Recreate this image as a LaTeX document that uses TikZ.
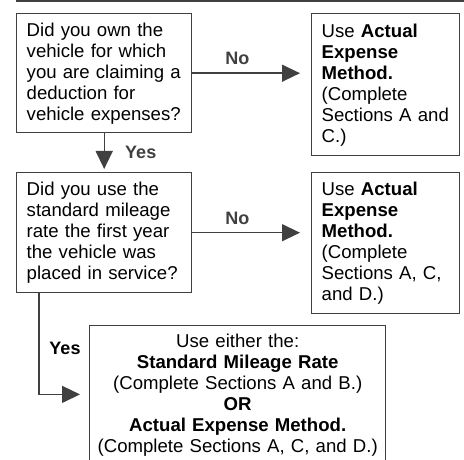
\documentclass[tikz,border=0pt]{standalone}
\usepackage{fontspec}
\setmainfont{Liberation Sans}
\usetikzlibrary{calc}
\usetikzlibrary{arrows.meta}
\definecolor{boxgray}{RGB}{64,64,64}

\tikzset{
	qbox/.style={draw=boxgray,line width=1.4pt,anchor=north west,align=left,
		inner xsep=10pt,inner ysep=0pt,font=\fontsize{18.6}{21}\selectfont},
	flow/.style={line width=1.4pt,color=boxgray,-{Triangle[length=18pt,width=17pt]}},
	lbl/.style={font=\fontsize{18}{21}\selectfont\bfseries}
}

\begin{document}
\begin{tikzpicture}[x=1pt,y=-1pt]
\useasboundingbox (0,0) rectangle (464,460);
\clip (0,0) rectangle (464,460);
	\draw[line width=1.4pt,boxgray] (16,1)--(464,1);
	% questions
	\node[qbox,text width=155pt,minimum height=119pt] (Q1) at (16,13)
		{Did you own the\\vehicle for which\\you are claiming a\\deduction for\\vehicle expenses?};
	\node[qbox,text width=155pt,minimum height=120pt] (Q2) at (16,172)
		{Did you use the\\standard mileage\\rate the first year\\the vehicle was\\placed in service?};
	% answers
	\node[qbox,text width=128pt,minimum height=142pt] (A1) at (311,13)
		{Use \textbf{Actual}\\\textbf{Expense}\\\textbf{Method.}\\(Complete\\Sections A and\\C.)};
	\node[qbox,text width=128pt,minimum height=141pt] (A2) at (311,172)
		{Use \textbf{Actual}\\\textbf{Expense}\\\textbf{Method.}\\(Complete\\Sections A, C,\\and D.)};
	\node[qbox,align=center,inner xsep=3pt,text width=290pt,minimum height=139pt] (A3) at (89,325)
		{Use either the:\\\textbf{Standard Mileage Rate}\\(Complete Sections A and B.)\\\textbf{OR}\\\textbf{Actual Expense Method.}\\(Complete Sections A, C, and D.)};
	% arrows
	\draw[flow,shorten >=11pt] (Q1.east) -- (Q1.east -| A1.west) node[lbl,pos=0.38,above=4pt] {No};
	\draw[flow,shorten >=11pt] (Q2.east) -- (Q2.east -| A2.west) node[lbl,pos=0.38,above=4pt] {No};
	\draw[flow,shorten >=3pt] (Q1.south) -- (Q2.north) node[lbl,midway,right=17pt] {Yes};
	\coordinate (Y) at ($(Q2.south west)+(23,0)$);
	\coordinate (Yb) at ($(Y)+(0,101)$);
	\draw[flow,shorten >=9pt] (Y) -- (Yb) -- (Yb -| A3.west);
	\node[lbl] (Ylbl) at (65,348) {Yes};
\end{tikzpicture}
\end{document}
